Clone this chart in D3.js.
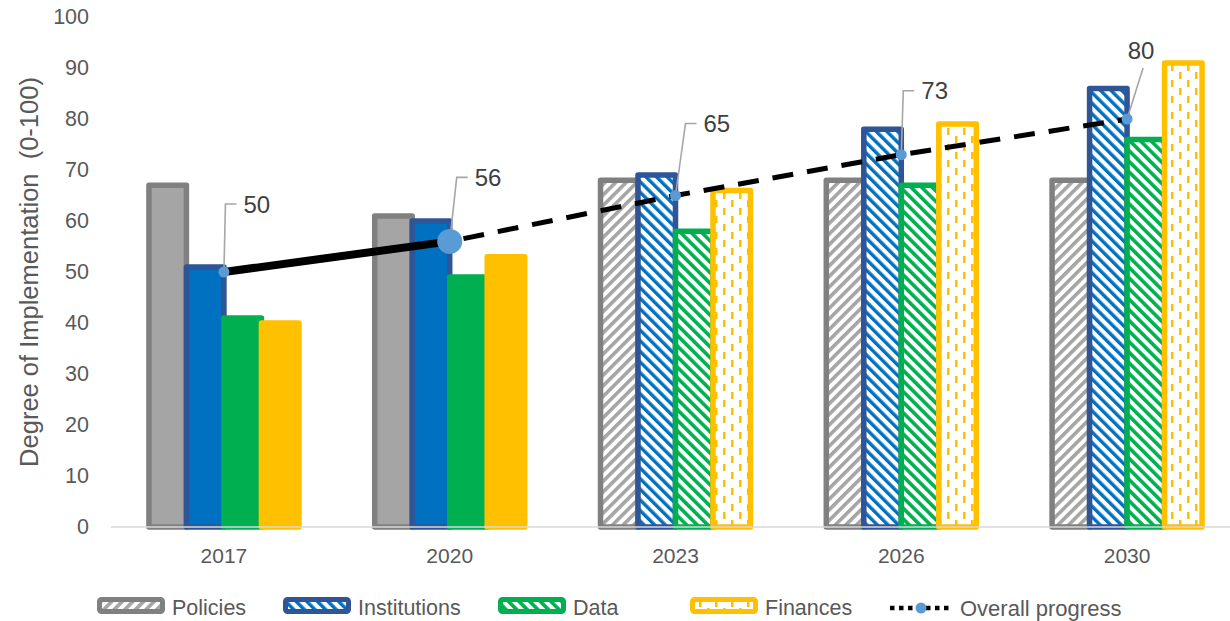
<!DOCTYPE html>
<html>
<head>
<meta charset="utf-8">
<script src="https://cdn.jsdelivr.net/npm/d3@7"></script>
<style>
  html, body { margin: 0; padding: 0; background: #fff; }
  svg { display: block; font-family: "Liberation Sans", Arial, sans-serif; }
</style>
</head>
<body>
<svg id="chart" width="1230" height="621"></svg>
<script>
// ---- data ----
const years = ["2017", "2020", "2023", "2026", "2030"];
const seriesNames = ["Policies", "Institutions", "Data", "Finances"];
const policies = [67, 61, 68, 68, 68];
const institutions = [51, 60, 69, 78, 86];
const dataSeries = [41, 49, 58, 67, 76];
const finances = [40, 53, 66, 79, 91];
const overallProgress = [50, 56, 65, 73, 80];
const yTicks = [0, 10, 20, 30, 40, 50, 60, 70, 80, 90, 100];
const projectedYears = ["2023", "2026", "2030"];
const lineName = "Overall progress";
const yTitle = "Degree of Implementation  (0-100)";

const seriesValues = [policies, institutions, dataSeries, finances];

// ---- styles ----
const fillColor = { Policies: "#A5A5A5", Institutions: "#0070C0", Data: "#00B050", Finances: "#FFC000" };
const edgeColor = { Policies: "#808080", Institutions: "#2F5597", Data: "#00B050", Finances: "#FFC000" };
const textColor = "#595959";

const svg = d3.select("#chart");
const defs = svg.append("defs");

// hatch patterns for projected years
function stripePattern(id, color, angle, period, thick) {
  const p = defs.append("pattern")
    .attr("id", id)
    .attr("patternUnits", "userSpaceOnUse")
    .attr("width", period).attr("height", period)
    .attr("patternTransform", `rotate(${angle})`);
  p.append("rect").attr("width", period).attr("height", period).attr("fill", "#fff");
  p.append("rect").attr("x", 0).attr("y", 0).attr("width", thick).attr("height", period).attr("fill", color);
}
stripePattern("pat-Policies", "#A5A5A5", 45, 7.5, 3.6);
stripePattern("pat-Institutions", "#0070C0", -45, 7.5, 3.4);
stripePattern("pat-Data", "#00B050", -45, 7.5, 3.6);
(function dashPattern() {
  const p = defs.append("pattern")
    .attr("id", "pat-Finances")
    .attr("patternUnits", "userSpaceOnUse")
    .attr("width", 16).attr("height", 16);
  p.append("rect").attr("width", 16).attr("height", 16).attr("fill", "#fff");
  p.append("rect").attr("x", 3).attr("y", 0).attr("width", 2.5).attr("height", 7).attr("fill", "#FFC000");
  p.append("rect").attr("x", 11).attr("y", 8).attr("width", 2.5).attr("height", 7).attr("fill", "#FFC000");
})();

// ---- scales ----
const x = d3.scaleBand().domain(years).range([111, 1240]).paddingInner(0.3357).paddingOuter(0.168);
const xs = d3.scaleBand().domain(seriesNames).range([0, x.bandwidth()]);
const y = d3.scaleLinear().domain([0, 100]).range([527, 17]);

// ---- y axis (labels only) ----
const yAxis = svg.append("g")
  .attr("transform", "translate(96,0)")
  .call(d3.axisLeft(y).tickValues(yTicks).tickSize(0).tickPadding(7));
yAxis.select(".domain").remove();
yAxis.selectAll("text")
  .attr("fill", textColor)
  .style("font-size", "21.5px")
  .style("font-family", "Liberation Sans, Arial, sans-serif");

svg.append("text")
  .attr("transform", `translate(29,${(y(0) + y(100)) / 2}) rotate(-90)`)
  .attr("text-anchor", "middle")
  .attr("dominant-baseline", "central")
  .attr("fill", textColor)
  .style("font-size", "25.5px")
  .style("white-space", "pre")
  .attr("xml:space", "preserve")
  .text(yTitle);

// ---- bars ----
const barRows = [];
years.forEach((yr, i) => {
  seriesNames.forEach((s, k) => {
    barRows.push({ year: yr, series: s, value: seriesValues[k][i], projected: projectedYears.includes(yr) });
  });
});

const barsG = svg.append("g");
seriesNames.forEach(s => {
  barsG.selectAll(null)
    .data(barRows.filter(d => d.series === s))
    .join("rect")
    .attr("x", d => x(d.year) + xs(d.series))
    .attr("y", d => y(d.value))
    .attr("width", xs.bandwidth())
    .attr("height", d => y(0) - y(d.value))
    .attr("fill", d => d.projected ? `url(#pat-${d.series})` : fillColor[d.series])
    .attr("stroke", d => edgeColor[d.series])
    .attr("stroke-width", 5.5)
    .attr("stroke-linejoin", "round");
});

// ---- x axis ----
const xAxis = svg.append("g")
  .attr("transform", `translate(0,${y(0)})`)
  .call(d3.axisBottom(x).tickSize(0).tickPadding(21));
xAxis.select(".domain").attr("stroke", "#D9D9D9").attr("stroke-width", 1.5)
  .attr("d", `M111,0H1230`);
xAxis.selectAll("text")
  .attr("fill", textColor)
  .style("font-size", "21px")
  .style("font-family", "Liberation Sans, Arial, sans-serif");

// ---- overall progress line ----
const pts = years.map((yr, i) => ({ year: yr, value: overallProgress[i], cx: x(yr) + x.bandwidth() / 2, cy: y(overallProgress[i]) }));
const line = d3.line().x(d => d.cx).y(d => d.cy);
const firstProjected = years.indexOf(projectedYears[0]) - 1;

svg.append("path")
  .attr("d", line(pts.slice(0, firstProjected + 1)))
  .attr("fill", "none").attr("stroke", "#000").attr("stroke-width", 8);
svg.append("path")
  .attr("d", line(pts.slice(firstProjected)))
  .attr("fill", "none").attr("stroke", "#000").attr("stroke-width", 5)
  .attr("stroke-dasharray", "21 14").attr("stroke-dashoffset", -14);

// leader lines and value labels: [elbow dx, elbow dy, horizontal run]
const labelLeaders = [[1.5, -68, 11], [7, -64, 11], [10, -72, 11], [2, -64, 11], [16, -51, 0]];
const labelG = svg.append("g");
pts.forEach((p, i) => {
  const [ax, ay, h] = labelLeaders[i];
  const ex = p.cx + ax, ey = p.cy + ay;
  labelG.append("path")
    .attr("d", `M${p.cx},${p.cy}L${ex},${ey}` + (h ? `H${ex + h}` : ""))
    .attr("fill", "none").attr("stroke", "#A6A6A6").attr("stroke-width", 1.6);
  const t = labelG.append("text")
    .attr("fill", "#404040")
    .style("font-size", "24px")
    .text(p.value);
  if (h) {
    t.attr("x", ex + h + 7).attr("y", ey).attr("dominant-baseline", "central");
  } else {
    t.attr("x", ex - 2).attr("y", ey - 18).attr("text-anchor", "middle").attr("dominant-baseline", "central");
  }
});

// markers
svg.append("g").selectAll("circle")
  .data(pts)
  .join("circle")
  .attr("cx", d => d.cx).attr("cy", d => d.cy)
  .attr("r", (d, i) => i === firstProjected ? 12.5 : 5.5)
  .attr("fill", "#5B9BD5");

// ---- legend ----
const legendY = 608;
const legendStarts = [97, 283, 498, 690];
seriesNames.forEach((s, k) => {
  const lx = legendStarts[k];
  svg.append("rect")
    .attr("x", lx + 2.5).attr("y", legendY - 8.5)
    .attr("width", 63).attr("height", 12)
    .attr("rx", 2)
    .attr("fill", `url(#pat-${s})`)
    .attr("stroke", edgeColor[s])
    .attr("stroke-width", 5);
  svg.append("text")
    .attr("x", lx + 75).attr("y", legendY)
    .attr("dominant-baseline", "central")
    .attr("fill", textColor)
    .style("font-size", "21.5px")
    .text(s);
});
// line legend
const lineLegendX = 890;
svg.append("line")
  .attr("x1", lineLegendX).attr("x2", lineLegendX + 62)
  .attr("y1", legendY).attr("y2", legendY)
  .attr("stroke", "#000").attr("stroke-width", 4.5)
  .attr("stroke-dasharray", "4.5 4.5");
svg.append("circle").attr("cx", lineLegendX + 31).attr("cy", legendY).attr("r", 5.5).attr("fill", "#5B9BD5");
svg.append("text")
  .attr("x", lineLegendX + 70).attr("y", legendY)
  .attr("dominant-baseline", "central")
  .attr("fill", textColor)
  .style("font-size", "22px")
  .text(lineName);
</script>
</body>
</html>
